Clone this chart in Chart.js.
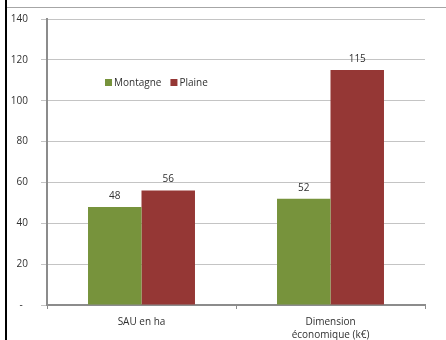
<!DOCTYPE html>
<html>
<head>
<meta charset="utf-8">
<script src="https://cdn.jsdelivr.net/npm/chart.js@4/dist/chart.umd.min.js"></script>
<style>
    html, body { margin: 0; padding: 0; background: #fff; }
    canvas { display: block; }
</style>
</head>
<body>
<canvas id="chart" width="446" height="340"></canvas>
<script>
// Chart data
const categories = [['SAU en ha'], ['Dimension', 'économique (k€)']];
const seriesNames = ['Montagne', 'Plaine'];
const montagneValues = [48, 52];
const plaineValues = [56, 115];
const yTicks = [0, 20, 40, 60, 80, 100, 120, 140];

const seriesColors = ['#77933c', '#953735'];
const textColor = '#303030';
const fontFamily = "'Open Sans', 'Liberation Sans', sans-serif";

// Frame lines around the chart (left black border, top gray rule)
const framePlugin = {
    id: 'frame',
    beforeDraw(chart) {
        const ctx = chart.ctx;
        ctx.save();
        ctx.fillStyle = '#fff';
        ctx.fillRect(0, 0, chart.width, chart.height);
        ctx.fillStyle = '#000';
        ctx.fillRect(5, 0, 2, chart.height);
        ctx.fillStyle = '#a6a6a6';
        ctx.fillRect(7, 7, chart.width - 7, 1);
        ctx.restore();
    }
};

// Value labels above each bar
const valueLabels = {
    id: 'valueLabels',
    afterDatasetsDraw(chart) {
        const ctx = chart.ctx;
        ctx.save();
        ctx.font = `10px ${fontFamily}`;
        ctx.fillStyle = textColor;
        ctx.textAlign = 'center';
        ctx.textBaseline = 'middle';
        chart.data.datasets.forEach((ds, i) => {
            chart.getDatasetMeta(i).data.forEach((bar, j) => {
                ctx.fillText(String(ds.data[j]), bar.x, bar.y - 11);
            });
        });
        ctx.restore();
    }
};

// Legend floating inside the plot area
const floatingLegend = {
    id: 'floatingLegend',
    afterDraw(chart) {
        const ctx = chart.ctx;
        ctx.save();
        ctx.font = `10px ${fontFamily}`;
        ctx.textBaseline = 'middle';
        let x = 105;
        const y = 83;
        chart.data.datasets.forEach(ds => {
            ctx.fillStyle = ds.backgroundColor;
            ctx.fillRect(x, y - 4, 7, 7);
            ctx.fillStyle = textColor;
            ctx.textAlign = 'left';
            ctx.fillText(ds.label, x + 9, y);
            x += 9 + ctx.measureText(ds.label).width + 9;
        });
        ctx.restore();
    }
};

new Chart(document.getElementById('chart'), {
    type: 'bar',
    data: {
        labels: categories,
        datasets: [
            { label: seriesNames[0], data: montagneValues, backgroundColor: seriesColors[0] },
            { label: seriesNames[1], data: plaineValues, backgroundColor: seriesColors[1] }
        ]
    },
    options: {
        responsive: false,
        animation: false,
        barPercentage: 1,
        categoryPercentage: 0.566,
        layout: { padding: { left: 8, right: 21, top: 18, bottom: 0 } },
        plugins: {
            legend: { display: false },
            tooltip: { enabled: false }
        },
        scales: {
            x: {
                afterFit: s => { s.height = 35; },
                border: { color: '#8c8c8c', width: 2 },
                grid: { drawOnChartArea: false, color: '#8c8c8c', tickLength: 4 },
                ticks: {
                    color: textColor,
                    font: { family: fontFamily, size: 10, lineHeight: 1.35 },
                    padding: 6,
                    maxRotation: 0
                }
            },
            y: {
                min: 0,
                max: 140,
                afterFit: s => { s.width = 39; },
                afterBuildTicks: s => { s.ticks = yTicks.map(v => ({ value: v })); },
                border: { color: '#8c8c8c', width: 2 },
                grid: { color: '#c4c4c4', tickLength: 6 },
                ticks: {
                    color: textColor,
                    font: { family: fontFamily, size: 10 },
                    padding: 13,
                    callback: v => v === 0 ? '-  ' : String(v)
                }
            }
        }
    },
    plugins: [framePlugin, valueLabels, floatingLegend]
});
</script>
</body>
</html>
